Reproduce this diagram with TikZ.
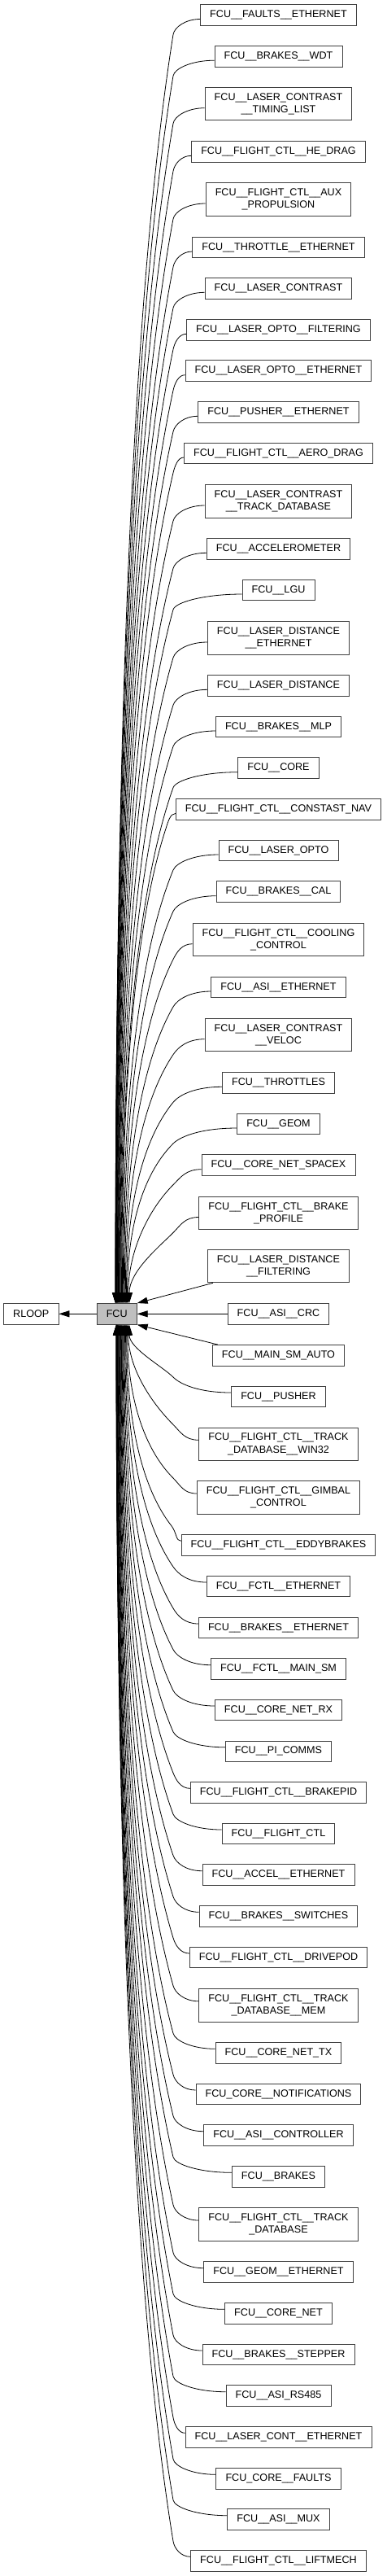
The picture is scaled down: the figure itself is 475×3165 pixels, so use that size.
\documentclass[tikz,border=0pt]{standalone}
\usepackage{fontspec}
\setmainfont{Liberation Sans}
\usetikzlibrary{arrows.meta,calc}

% edge from a module above FCU into the top of FCU (#2 = rank from the top)
\newcommand{\upedge}[2]{%
  \draw[dep] let \p1=(#1.west), \p2=(fcu.north west),
      \n1={min(213pt,\x1-12pt)}, \n2={\y1-24pt},
      \n5={\x2+23.3pt+17pt*((#2-1)/27)^2},
      \n3={\n2-\y2}, \n4={min(1,3.5*(\n1-\n5)/\n3)} in
    ({\x1},{\y1-5pt}) .. controls ({\x1-0.55*(\x1-\n1)},{\y1-5pt}) and ({\n1+9pt*\n4},{\n2+9pt}) .. ({\n1},{\n2})
    .. controls ({\n1-0.2*\n3*\n4},{\n2-0.2*\n3}) and ({\n5},{\y2+0.45*\n3}) .. ({\n5},{\y2});
}
% edge from a module below FCU into the bottom of FCU (#2 = rank from the bottom)
\newcommand{\downedge}[2]{%
  \draw[dep] let \p1=(#1.west), \p2=(fcu.south west),
      \n1={min(213pt,\x1-12pt)}, \n2={\y1+24pt},
      \n5={\x2+24.3pt+16pt*((#2-1)/27)^2},
      \n3={\y2-\n2}, \n4={min(1,3.5*(\n1-\n5)/\n3)} in
    ({\x1},{\y1+5pt}) .. controls ({\x1-0.55*(\x1-\n1)},{\y1+5pt}) and ({\n1+9pt*\n4},{\n2-9pt}) .. ({\n1},{\n2})
    .. controls ({\n1-0.2*\n3*\n4},{\n2+0.2*\n3}) and ({\n5},{\y2-0.45*\n3}) .. ({\n5},{\y2});
}

\begin{document}
\begin{tikzpicture}[x=1pt,y=-1pt]
  \tikzstyle{every node}=[font={\fontsize{12.6}{15.3}\selectfont}]
  \tikzstyle{box}=[draw=black!75, line width=0.9pt, fill=white, minimum height=25.6pt, inner xsep=11.6pt, inner ysep=2pt, align=center]
  \tikzstyle{tall}=[box, minimum height=40.3pt]
  \tikzstyle{dep}=[-{Triangle[length=13pt,width=8pt]}, line width=0.8pt]

  \useasboundingbox (0,0) rectangle (475,3165);

  \node[box] (rloop) at (38.3,1614.3) {RLOOP};
  \node[box, fill=black!25] (fcu) at (143.7,1614.3) {FCU};

  \node[box] (faultseth) at (342.5,18.5) {FCU\_\_FAULTS\_\_ETHERNET};
  \node[box] (brakeswdt) at (342.5,69.2) {FCU\_\_BRAKES\_\_WDT};
  \node[tall] (lcontiming) at (342.5,127.7) {FCU\_\_LASER\_CONTRAST\\\_\_TIMING\_LIST};
  \node[box] (hedrag) at (342.5,186.3) {FCU\_\_FLIGHT\_CTL\_\_HE\_DRAG};
  \node[tall] (auxprop) at (342.5,245) {FCU\_\_FLIGHT\_CTL\_\_AUX\\\_PROPULSION};
  \node[box] (throttleeth) at (342.5,304) {FCU\_\_THROTTLE\_\_ETHERNET};
  \node[box] (lcont) at (342.5,354.3) {FCU\_\_LASER\_CONTRAST};
  \node[box] (loptofilt) at (342.5,405.3) {FCU\_\_LASER\_OPTO\_\_FILTERING};
  \node[box] (loptoeth) at (342.5,455.7) {FCU\_\_LASER\_OPTO\_\_ETHERNET};
  \node[box] (pushereth) at (342.5,506.3) {FCU\_\_PUSHER\_\_ETHERNET};
  \node[box] (aerodrag) at (342.5,557) {FCU\_\_FLIGHT\_CTL\_\_AERO\_DRAG};
  \node[tall] (lconttrack) at (342.5,616) {FCU\_\_LASER\_CONTRAST\\\_\_TRACK\_DATABASE};
  \node[box] (accel) at (342.5,674.3) {FCU\_\_ACCELEROMETER};
  \node[box] (lgu) at (342.5,725) {FCU\_\_LGU};
  \node[tall] (ldisteth) at (342.5,784) {FCU\_\_LASER\_DISTANCE\\\_\_ETHERNET};
  \node[box] (ldist) at (342.5,842.3) {FCU\_\_LASER\_DISTANCE};
  \node[box] (brakesmlp) at (342.5,893) {FCU\_\_BRAKES\_\_MLP};
  \node[box] (core) at (342.5,943.7) {FCU\_\_CORE};
  \node[box] (constnav) at (342.5,994.5) {FCU\_\_FLIGHT\_CTL\_\_CONSTAST\_NAV};
  \node[box] (lopto) at (342.5,1045) {FCU\_\_LASER\_OPTO};
  \node[box] (brakescal) at (342.5,1095.7) {FCU\_\_BRAKES\_\_CAL};
  \node[tall] (cooling) at (342.5,1154.7) {FCU\_\_FLIGHT\_CTL\_\_COOLING\\\_CONTROL};
  \node[box] (asieth) at (342.5,1213) {FCU\_\_ASI\_\_ETHERNET};
  \node[tall] (lcontveloc) at (342.5,1271.7) {FCU\_\_LASER\_CONTRAST\\\_\_VELOC};
  \node[box] (throttles) at (342.5,1330.3) {FCU\_\_THROTTLES};
  \node[box] (geom) at (342.5,1381) {FCU\_\_GEOM};
  \node[box] (netspacex) at (342.5,1431.7) {FCU\_\_CORE\_NET\_SPACEX};
  \node[tall] (brakeprofile) at (342.5,1490.5) {FCU\_\_FLIGHT\_CTL\_\_BRAKE\\\_PROFILE};
  \node[tall] (ldistfilt) at (342.5,1555.7) {FCU\_\_LASER\_DISTANCE\\\_\_FILTERING};
  \node[box] (asicrc) at (342.5,1614.3) {FCU\_\_ASI\_\_CRC};
  \node[box] (mainsmauto) at (342.5,1665.3) {FCU\_\_MAIN\_SM\_AUTO};
  \node[box] (pusher) at (342.5,1716) {FCU\_\_PUSHER};
  \node[tall] (trackwin) at (342.5,1774.3) {FCU\_\_FLIGHT\_CTL\_\_TRACK\\\_DATABASE\_\_WIN32};
  \node[tall] (gimbal) at (342.5,1840) {FCU\_\_FLIGHT\_CTL\_\_GIMBAL\\\_CONTROL};
  \node[box] (eddy) at (342.5,1898.3) {FCU\_\_FLIGHT\_CTL\_\_EDDYBRAKES};
  \node[box] (fctleth) at (342.5,1949) {FCU\_\_FCTL\_\_ETHERNET};
  \node[box] (brakeseth) at (342.5,2000) {FCU\_\_BRAKES\_\_ETHERNET};
  \node[box] (fctlmainsm) at (342.5,2050.7) {FCU\_\_FCTL\_\_MAIN\_SM};
  \node[box] (netrx) at (342.5,2101) {FCU\_\_CORE\_NET\_RX};
  \node[box] (picomms) at (342.5,2151.8) {FCU\_\_PI\_COMMS};
  \node[box] (brakepid) at (342.5,2202.3) {FCU\_\_FLIGHT\_CTL\_\_BRAKEPID};
  \node[box] (flightctl) at (342.5,2253) {FCU\_\_FLIGHT\_CTL};
  \node[box] (acceleth) at (342.5,2303.7) {FCU\_\_ACCEL\_\_ETHERNET};
  \node[box] (switches) at (342.5,2354.3) {FCU\_\_BRAKES\_\_SWITCHES};
  \node[box] (drivepod) at (342.5,2405) {FCU\_\_FLIGHT\_CTL\_\_DRIVEPOD};
  \node[tall] (trackmem) at (342.5,2463.8) {FCU\_\_FLIGHT\_CTL\_\_TRACK\\\_DATABASE\_\_MEM};
  \node[box] (nettx) at (342.5,2522.3) {FCU\_\_CORE\_NET\_TX};
  \node[box] (notif) at (342.5,2573) {FCU\_CORE\_\_NOTIFICATIONS};
  \node[box] (asictrl) at (342.5,2623.7) {FCU\_\_ASI\_\_CONTROLLER};
  \node[box] (brakes) at (342.5,2674.3) {FCU\_\_BRAKES};
  \node[tall] (trackdb) at (342.5,2733) {FCU\_\_FLIGHT\_CTL\_\_TRACK\\\_DATABASE};
  \node[box] (geometh) at (342.5,2791.7) {FCU\_\_GEOM\_\_ETHERNET};
  \node[box] (corenet) at (342.5,2842.3) {FCU\_\_CORE\_NET};
  \node[box] (stepper) at (342.5,2893) {FCU\_\_BRAKES\_\_STEPPER};
  \node[box] (rs485) at (342.5,2943.7) {FCU\_\_ASI\_RS485};
  \node[box] (lconteth) at (342.5,2994.3) {FCU\_\_LASER\_CONT\_\_ETHERNET};
  \node[box] (corefaults) at (342.5,3045.3) {FCU\_CORE\_\_FAULTS};
  \node[box] (asimux) at (342.5,3095.7) {FCU\_\_ASI\_\_MUX};
  \node[box] (liftmech) at (342.5,3146.3) {FCU\_\_FLIGHT\_CTL\_\_LIFTMECH};

  % FCU belongs to RLOOP
  \draw[dep] (fcu) -- (rloop);

  % modules above FCU
  \upedge{faultseth}{1}
  \upedge{brakeswdt}{2}
  \upedge{lcontiming}{3}
  \upedge{hedrag}{4}
  \upedge{auxprop}{5}
  \upedge{throttleeth}{6}
  \upedge{lcont}{7}
  \upedge{loptofilt}{8}
  \upedge{loptoeth}{9}
  \upedge{pushereth}{10}
  \upedge{aerodrag}{11}
  \upedge{lconttrack}{12}
  \upedge{accel}{13}
  \upedge{lgu}{14}
  \upedge{ldisteth}{15}
  \upedge{ldist}{16}
  \upedge{brakesmlp}{17}
  \upedge{core}{18}
  \upedge{constnav}{19}
  \upedge{lopto}{20}
  \upedge{brakescal}{21}
  \upedge{cooling}{22}
  \upedge{asieth}{23}
  \upedge{lcontveloc}{24}
  \upedge{throttles}{25}
  \upedge{geom}{26}
  \upedge{netspacex}{27}
  \upedge{brakeprofile}{28}

  % the three next to FCU
  \draw[dep] ([xshift=7pt]ldistfilt.south west) -- (fcu.north east);
  \draw[dep] (asicrc) -- (fcu);
  \draw[dep] ([xshift=7pt]mainsmauto.north west) -- (fcu.south east);

  % modules below FCU
  \downedge{pusher}{28}
  \downedge{trackwin}{27}
  \downedge{gimbal}{26}
  \downedge{eddy}{25}
  \downedge{fctleth}{24}
  \downedge{brakeseth}{23}
  \downedge{fctlmainsm}{22}
  \downedge{netrx}{21}
  \downedge{picomms}{20}
  \downedge{brakepid}{19}
  \downedge{flightctl}{18}
  \downedge{acceleth}{17}
  \downedge{switches}{16}
  \downedge{drivepod}{15}
  \downedge{trackmem}{14}
  \downedge{nettx}{13}
  \downedge{notif}{12}
  \downedge{asictrl}{11}
  \downedge{brakes}{10}
  \downedge{trackdb}{9}
  \downedge{geometh}{8}
  \downedge{corenet}{7}
  \downedge{stepper}{6}
  \downedge{rs485}{5}
  \downedge{lconteth}{4}
  \downedge{corefaults}{3}
  \downedge{asimux}{2}
  \downedge{liftmech}{1}

\end{tikzpicture}
\end{document}
